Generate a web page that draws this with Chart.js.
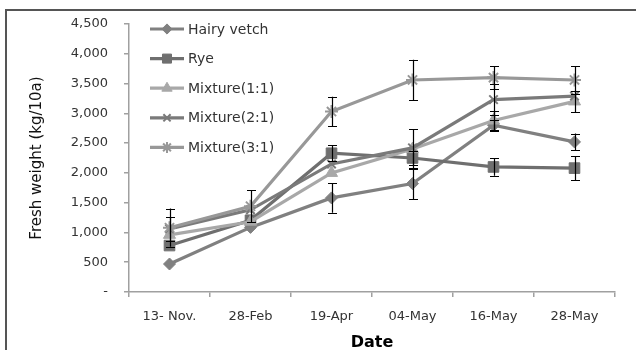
<!DOCTYPE html>
<html><head><meta charset="utf-8">
<script src="https://cdn.jsdelivr.net/npm/chart.js@4/dist/chart.umd.min.js"></script>
<style>html,body{margin:0;padding:0;background:#fff;overflow:hidden}#wrap{width:636px;height:350px;position:relative}</style>
</head><body><div id="wrap"><canvas id="c" width="636" height="350"></canvas></div>
<script>
// ---- data ----
const categories = ['13- Nov.', '28-Feb', '19-Apr', '04-May', '16-May', '28-May'];
const seriesNames = ['Hairy vetch', 'Rye', 'Mixture(1:1)', 'Mixture(2:1)', 'Mixture(3:1)'];
const hairyVetch = [470, 1085, 1580, 1820, 2800, 2520];
const rye        = [780, 1205, 2330, 2250, 2100, 2080];
const mix11      = [960, 1180, 2000, 2400, 2880, 3200];
const mix21      = [1060, 1380, 2150, 2420, 3230, 3290];
const mix31      = [1080, 1440, 3030, 3560, 3600, 3560];
// symmetric error (null = none visible)
const hairyVetchErr = [null, null, 250, 260, 90, 140];
const ryeErr        = [null, null, 130, 120, 150, 200];
const mix11Err      = [null, null, null, 330, 160, 180];
const mix21Err      = [200, null, null, null, 260, null];
const mix31Err      = [320, 270, 250, 340, 190, 230];
const yTicks = [0, 500, 1000, 1500, 2000, 2500, 3000, 3500, 4000, 4500];

const colors = ['#808080', '#6f6f6f', '#a8a8a8', '#7a7a7a', '#989898'];
const styles = ['rectRot', 'rect', 'triangle', 'crossRot', 'star'];
const radii = [6, 7.5, 7, 6, 6.5];
const values = [hairyVetch, rye, mix11, mix21, mix31];
const errs = [hairyVetchErr, ryeErr, mix11Err, mix21Err, mix31Err];

const datasets = seriesNames.map((n, i) => ({
  label: n,
  data: values[i],
  errors: errs[i],
  borderColor: colors[i],
  backgroundColor: colors[i],
  pointBackgroundColor: colors[i],
  pointBorderColor: colors[i],
  pointStyle: styles[i],
  pointRadius: radii[i],
  pointBorderWidth: (styles[i] === 'crossRot' || styles[i] === 'star') ? 2 : 1,
  borderWidth: 3.2,
  tension: 0,
  order: 5 - i
}));

function drawMarker(ctx, style, x, y, r, color, bw) {
  ctx.save();
  ctx.fillStyle = color; ctx.strokeStyle = color; ctx.lineWidth = bw;
  ctx.beginPath();
  if (Chart.helpers && Chart.helpers.drawPoint) {
    Chart.helpers.drawPoint(ctx, {pointStyle: style, radius: r, borderWidth: bw, rotation: 0}, x, y);
    ctx.restore(); return;
  }
  ctx.restore();
}

const frame = {
  id: 'frame',
  beforeDraw(chart) {
    const ctx = chart.ctx;
    ctx.save();
    ctx.fillStyle = '#fff';
    ctx.fillRect(0, 0, chart.width, chart.height);
    ctx.strokeStyle = '#555';
    ctx.lineWidth = 2;
    ctx.beginPath();
    ctx.moveTo(6, 350); ctx.lineTo(6, 10); ctx.lineTo(636, 10);
    ctx.stroke();
    ctx.restore();
  }
};

const errorBars = {
  id: 'errorBars',
  afterDatasetsDraw(chart) {
    const ctx = chart.ctx, ys = chart.scales.y;
    ctx.save();
    ctx.strokeStyle = '#000';
    ctx.lineWidth = 1.2;
    chart.data.datasets.forEach((ds, di) => {
      const meta = chart.getDatasetMeta(di);
      meta.data.forEach((pt, j) => {
        const e = ds.errors[j];
        if (e == null) return;
        const v = ds.data[j];
        const y1 = ys.getPixelForValue(v + e), y2 = ys.getPixelForValue(v - e);
        const x = Math.round(pt.x) + 0.5;
        ctx.beginPath();
        ctx.moveTo(x, y1); ctx.lineTo(x, y2);
        ctx.moveTo(x - 4.5, Math.round(y1) + 0.5); ctx.lineTo(x + 4.5, Math.round(y1) + 0.5);
        ctx.moveTo(x - 4.5, Math.round(y2) + 0.5); ctx.lineTo(x + 4.5, Math.round(y2) + 0.5);
        ctx.stroke();
      });
    });
    ctx.restore();
  }
};

const insideLegend = {
  id: 'insideLegend',
  afterDraw(chart) {
    const ctx = chart.ctx;
    const x0 = chart.chartArea.left + 21, lineLen = 34, y0 = chart.chartArea.top + 5, step = 29.6;
    chart.data.datasets.forEach((ds, i) => {
      const y = y0 + i * step;
      ctx.save();
      ctx.strokeStyle = ds.borderColor; ctx.lineWidth = 3.2;
      ctx.beginPath(); ctx.moveTo(x0, y); ctx.lineTo(x0 + lineLen, y); ctx.stroke();
      ctx.restore();
      drawMarker(ctx, ds.pointStyle, x0 + lineLen / 2, y, ds.pointRadius * 0.85, ds.borderColor, ds.pointBorderWidth);
      ctx.save();
      ctx.fillStyle = '#333';
      ctx.font = '14px "DejaVu Sans"';
      ctx.textBaseline = 'middle';
      ctx.fillText(ds.label, x0 + lineLen + 4, y + 1);
      ctx.restore();
    });
  }
};

new Chart(document.getElementById('c'), {
  type: 'line',
  data: { labels: categories, datasets },
  options: {
    responsive: false,
    animation: false,
    devicePixelRatio: 1,
    layout: { padding: { top: 24, right: 21, bottom: 0, left: 0 } },
    plugins: { legend: { display: false }, tooltip: { enabled: false } },
    scales: {
      x: {
        type: 'category',
        offset: true,
        grid: { display: true, offset: true, drawOnChartArea: false, tickLength: 5, color: '#a0a0a0', lineWidth: 1.5 },
        border: { color: '#a0a0a0', width: 1.5 },
        ticks: { color: '#333', font: { family: 'DejaVu Sans', size: 13 }, padding: 12, maxRotation: 0, autoSkip: false },
        title: { display: true, text: 'Date', color: '#000', font: { family: 'DejaVu Sans', size: 16, weight: 'bold', lineHeight: 0.9 }, padding: { top: 0, bottom: 0 } },
        afterFit(s) { s.height = 58; }
      },
      y: {
        min: 0, max: 4500,
        afterBuildTicks(s) { s.ticks = yTicks.map(v => ({ value: v })); },
        grid: { display: true, drawOnChartArea: false, tickLength: 5, color: '#a0a0a0', lineWidth: 1.5 },
        border: { color: '#a0a0a0', width: 1.5 },
        ticks: {
          color: '#333', font: { family: 'DejaVu Sans', size: 13 }, padding: 16,
          callback: v => v === 0 ? '-' : v.toLocaleString('en-US')
        },
        title: { display: true, text: 'Fresh weight (kg/10a)', color: '#111', font: { family: 'DejaVu Sans', size: 15 }, padding: { top: 28, bottom: 0 } },
        afterFit(s) { s.width = 129; }
      }
    }
  },
  plugins: [frame, errorBars, insideLegend]
});
</script>
</body></html>
